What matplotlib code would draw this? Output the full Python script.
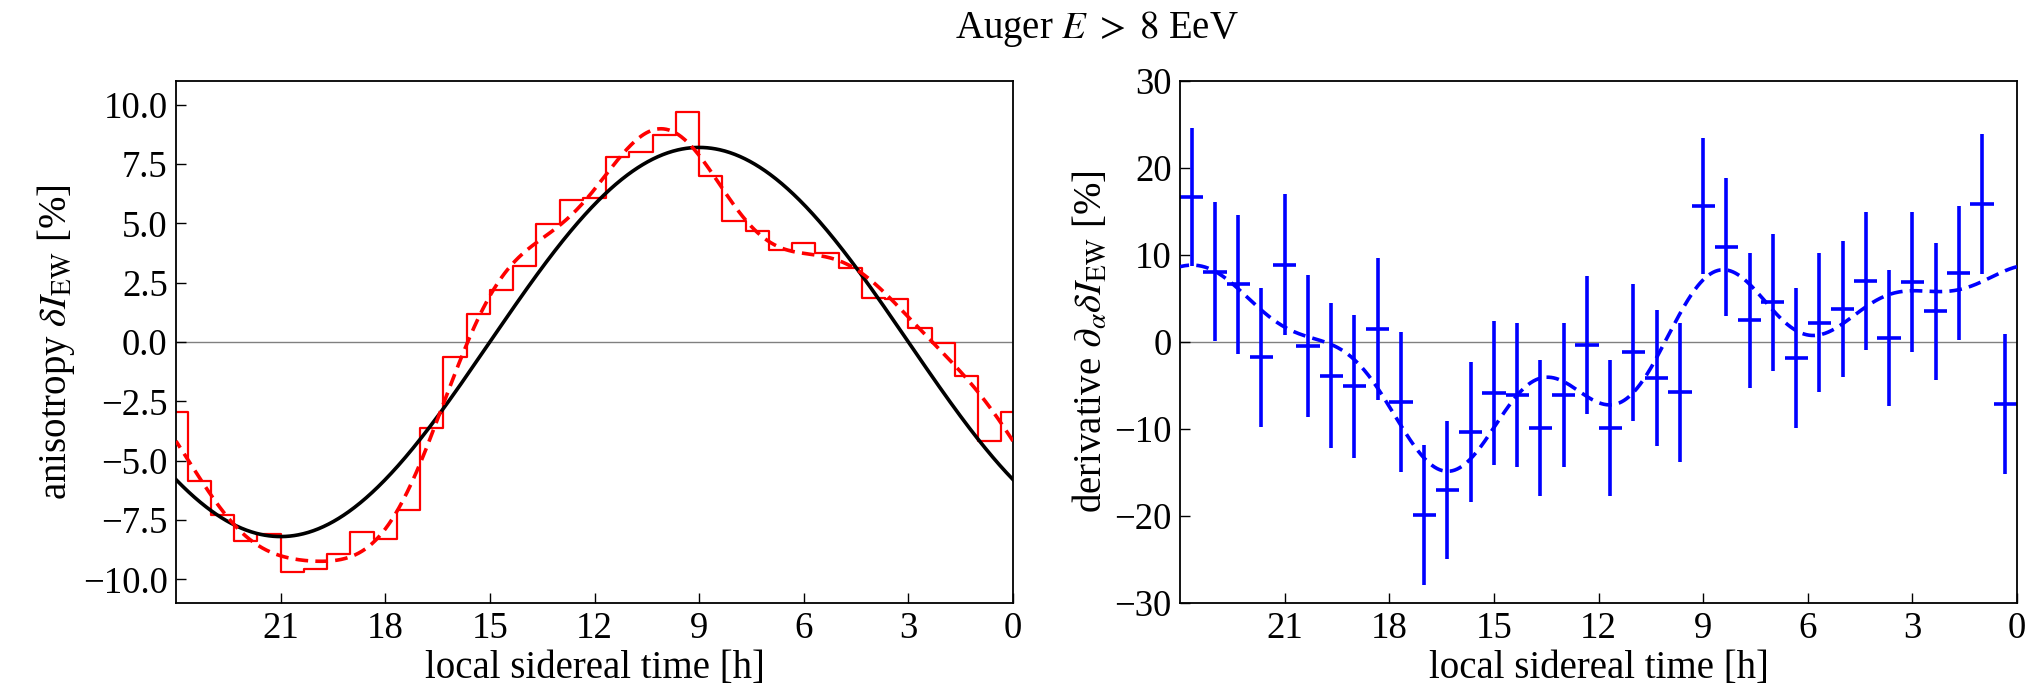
import numpy as np
import matplotlib
matplotlib.use("Agg")
import matplotlib.pyplot as plt

# ---------------- data ----------------
# red histogram: bin centres (h) and anisotropy values (%)
bin_width_h = 2.0 / 3.0
bin_centers_h = [i * 2.0 / 3.0 for i in range(36)]
aniso_vals = [-2.93, -4.17, -1.42, -0.03, 0.61, 1.83, 1.86, 3.10, 3.77, 4.17,
              3.87, 4.67, 5.10, 6.99, 9.71, 8.74, 8.00, 7.81, 6.09, 6.00,
              4.96, 3.22, 2.18, 1.16, -0.64, -3.62, -7.07, -8.29, -8.01, -8.93,
              -9.57, -9.68, -8.11, -8.40, -7.28, -5.87]

# dipole (black)
dipole_amp = 8.2        # %
dipole_peak_h = 9.0     # h

# harmonic order of the smooth (dashed) fit to the histogram
fit_order = 5

# blue derivative points at bin edges (h), values and errors (%)
deriv_x_h = [(2 * i + 1) / 3.0 for i in range(36)]
deriv_vals = [-7.10, 15.88, 7.96, 3.53, 6.93, 0.45, 7.02, 3.78, 2.22, -1.81,
              4.55, 2.50, 10.96, 15.63, -5.79, -4.14, -1.19, -9.89, -0.37, -6.07,
              -9.89, -6.07, -5.87, -10.38, -16.99, -19.86, -6.89, 1.48, -5.09, -3.86,
              -0.45, 8.90, -1.76, 6.61, 8.08, 16.70]
deriv_errs = [8.06, 8.02, 7.69, 7.86, 8.06, 7.84, 7.90, 7.82, 8.00, 8.04,
              7.84, 7.76, 7.94, 7.86, 8.00, 7.80, 7.90, 7.84, 7.94, 8.31,
              7.84, 8.25, 8.31, 8.04, 7.92, 8.04, 8.06, 8.15, 8.25, 8.35,
              8.15, 8.15, 8.00, 8.04, 8.00, 7.94]

title_text = r"Auger $E\;>\;8$ EeV"
xlabel_text = "local sidereal time [h]"
ylabel_left = r"anisotropy $\delta I_{\rm EW}$ [%]"
ylabel_right = r"derivative $\mathrm{\partial}_\alpha \delta I_{\rm EW}$ [%]"
xticks = [21, 18, 15, 12, 9, 6, 3, 0]
yticks_left = [-10.0, -7.5, -5.0, -2.5, 0.0, 2.5, 5.0, 7.5, 10.0]
yticks_right = [-30, -20, -10, 0, 10, 20, 30]

# ---------------- style ----------------
plt.rcParams['font.family'] = ['Liberation Serif', 'DejaVu Serif']
plt.rcParams['mathtext.fontset'] = 'stix'
FS_TICK = 26.5
FS_LAB = 28

W, H = 2033, 693
fig = plt.figure(figsize=(W / 100, H / 100), dpi=100)
axL = fig.add_axes([176 / W, (H - 603) / H, 837 / W, 522 / H])
axR = fig.add_axes([1180 / W, (H - 603) / H, 837 / W, 522 / H])

# ---------------- computations ----------------
c = np.array(bin_centers_h)
v = np.array(aniso_vals)
alpha_c = 2 * np.pi * c / 24.0
cols = [np.ones_like(alpha_c)]
for n in range(1, fit_order + 1):
    cols += [np.cos(n * alpha_c), np.sin(n * alpha_c)]
A = np.vstack(cols).T
coef, *_ = np.linalg.lstsq(A, v, rcond=None)

t = np.linspace(0, 24, 1000)
al = 2 * np.pi * t / 24.0
fit = np.full_like(t, coef[0])
dfit = np.zeros_like(t)
for n in range(1, fit_order + 1):
    a, b = coef[2 * n - 1], coef[2 * n]
    fit += a * np.cos(n * al) + b * np.sin(n * al)
    dfit += n * (-a * np.sin(n * al) + b * np.cos(n * al))
dip = dipole_amp * np.cos(2 * np.pi * (t - dipole_peak_h) / 24.0)

# step histogram with wrap-around of the bin centred at 0/24 h
edges = [0.0]
vals = [v[0]]
for i in range(1, 36):
    edges.append(c[i] - bin_width_h / 2)
    vals.append(v[i])
edges.append(24.0 - bin_width_h / 2)
vals.append(v[0])
edges.append(24.0)
xs = np.array(edges)
ys = np.array(vals + [v[0]])

# ---------------- left panel ----------------
axL.axhline(0, color='gray', lw=1.0, zorder=1)
axL.step(xs, ys, where='post', color='red', lw=1.6, zorder=2)
axL.plot(t, dip, color='black', lw=2.6, zorder=3)
axL.plot(t, fit, color='red', lw=2.6, ls=(0, (3.5, 2)), zorder=4)
axL.set_xlim(24, 0)
axL.set_ylim(-11, 11)
axL.set_yticks(yticks_left)
axL.set_yticklabels([f"{y:.1f}".replace('-', '\u2212') for y in yticks_left])
axL.set_ylabel(ylabel_left, fontsize=FS_LAB, labelpad=4)

# ---------------- right panel ----------------
axR.axhline(0, color='gray', lw=1.0, zorder=1)
axR.errorbar(deriv_x_h, deriv_vals, yerr=deriv_errs, xerr=1.0 / 3.0, fmt='none',
             ecolor='blue', elinewidth=2.6, capsize=0, zorder=2)
axR.plot(t, dfit, color='blue', lw=2.6, ls=(0, (3.5, 2)), zorder=3)
axR.set_xlim(24, 0)
axR.set_ylim(-30, 30)
axR.set_yticks(yticks_right)
axR.set_yticklabels([f"{y:d}".replace('-', '\u2212') for y in yticks_right])
axR.set_ylabel(ylabel_right, fontsize=FS_LAB, labelpad=2)

for ax in (axL, axR):
    ax.set_xticks(xticks)
    ax.set_xticklabels([str(x) for x in xticks])
    ax.tick_params(direction='in', length=7, width=1.0, labelsize=FS_TICK,
                   top=False, right=False, pad=6)
    ax.set_xlabel(xlabel_text, fontsize=FS_LAB, labelpad=3)
    for s in ax.spines.values():
        s.set_linewidth(1.3)

fig.text(1097 / W, 1 - 38 / H, title_text, ha='center', va='baseline', fontsize=FS_LAB)

fig.savefig("out.png", dpi=100)
